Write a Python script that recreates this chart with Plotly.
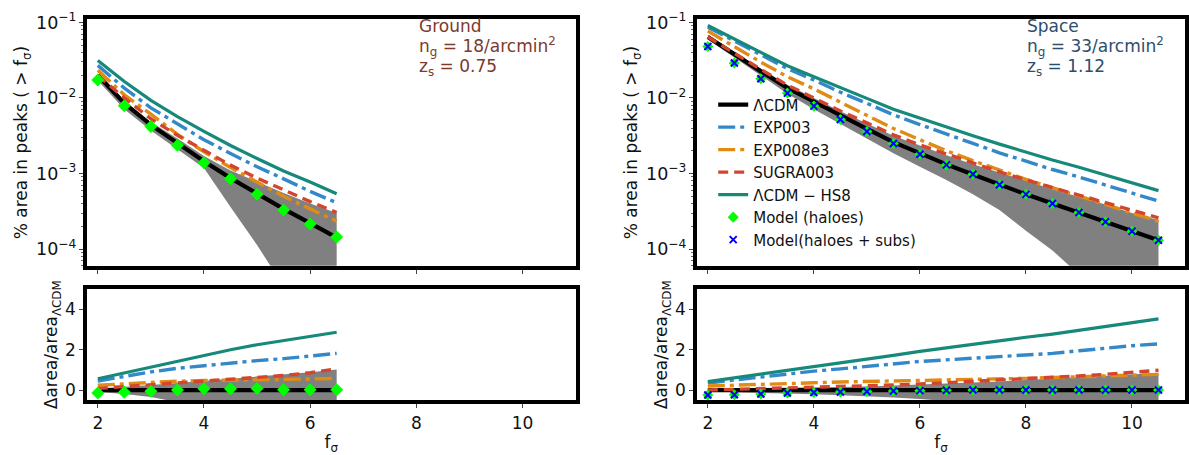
import math
import plotly.graph_objects as go

# ---------------- data ----------------
f_ground = [2.0, 2.5, 3.0, 3.5, 4.0, 4.5, 5.0, 5.5, 6.0, 6.5]
f_space = [2.0, 2.5, 3.0, 3.5, 4.0, 4.5, 5.0, 5.5, 6.0, 6.5, 7.0, 7.5, 8.0, 8.5, 9.0, 9.5, 10.0, 10.5]

# Ground, fraction of area in peaks
g_lcdm = [0.020, 0.0085, 0.0044, 0.0025, 0.00145, 0.00087, 0.00054, 0.00034, 0.00022, 0.000142]
g_exp003 = [0.027, 0.0135, 0.0074, 0.0045, 0.0028, 0.00184, 0.00123, 0.00085, 0.00058, 0.00041]
g_exp008e3 = [0.0233, 0.011, 0.0061, 0.0033, 0.00194, 0.0012, 0.00077, 0.0005, 0.00034, 0.000234]
g_sugra003 = [0.0199, 0.0100, 0.0053, 0.0032, 0.00203, 0.00129, 0.00087, 0.0006, 0.000425, 0.000305]
g_hs8 = [0.0314, 0.0165, 0.0093, 0.00567, 0.00362, 0.00235, 0.00158, 0.00108, 0.00077, 0.00054]
g_model = [0.0173, 0.0079, 0.0042, 0.00236, 0.00139, 0.00085, 0.00053, 0.00033, 0.000215, 0.000144]
g_band_lo = [0.017, 0.0071, 0.0037, 0.0021, 0.00118, 0.00036, 0.000113, 0.000032, 0.000001, 0.0000001]
g_band_hi = [0.021, 0.0092, 0.0048, 0.0029, 0.0017, 0.0011, 0.00078, 0.00055, 0.0004, 0.0003]

# Ground, relative difference
g_d_lcdm = [0, 0, 0, 0, 0, 0, 0, 0, 0, 0]
g_d_exp003 = [0.45, 0.68, 0.9, 1.08, 1.22, 1.35, 1.46, 1.56, 1.67, 1.82]
g_d_exp008e3 = [0.24, 0.32, 0.38, 0.44, 0.47, 0.48, 0.5, 0.52, 0.55, 0.58]
g_d_sugra003 = [0.08, 0.17, 0.26, 0.35, 0.45, 0.53, 0.61, 0.72, 0.86, 1.06]
g_d_hs8 = [0.56, 0.85, 1.13, 1.45, 1.75, 2.0, 2.25, 2.45, 2.65, 2.87]
g_d_model = [-0.15, -0.11, -0.06, 0.0, 0.06, 0.07, 0.08, 0.02, 0.02, 0.01]
g_d_band_lo = [-0.1, -0.2, -0.35, -0.6, -0.8, -0.9, -1.0, -1.0, -1.0, -1.0]
g_d_band_hi = [0.08, 0.15, 0.25, 0.35, 0.45, 0.55, 0.65, 0.75, 0.88, 1.02]

# Space, fraction of area in peaks
s_lcdm = [0.064, 0.0377, 0.0225, 0.0136, 0.0089, 0.0058, 0.0039, 0.0026, 0.00184, 0.00132,
          0.00097, 0.00071, 0.00053, 0.0004, 0.000305, 0.00023, 0.000172, 0.000131]
s_exp003 = [0.0864, 0.0566, 0.0365, 0.0245, 0.0173, 0.0119, 0.0085, 0.00598, 0.00445, 0.0033,
            0.0025, 0.00188, 0.00144, 0.00113, 0.0009, 0.000708, 0.00055, 0.000431]
s_exp008e3 = [0.0768, 0.0475, 0.0298, 0.0191, 0.0132, 0.0088, 0.0059, 0.00395, 0.0028, 0.002,
              0.00148, 0.0011, 0.000837, 0.000648, 0.000506, 0.000391, 0.000299, 0.000233]
s_sugra003 = [0.064, 0.0388, 0.0239, 0.0148, 0.00997, 0.00673, 0.00468, 0.00325, 0.00239, 0.0018,
              0.00138, 0.00105, 0.000822, 0.000648, 0.000519, 0.000409, 0.000323, 0.000259]
s_hs8 = [0.0909, 0.0603, 0.04, 0.0267, 0.0191, 0.01357, 0.00987, 0.00707, 0.00537, 0.00409,
         0.00317, 0.00245, 0.00192, 0.00151, 0.00121, 0.000961, 0.00075, 0.000593]
s_model = [0.048, 0.029, 0.018, 0.0116, 0.0078, 0.0052, 0.0036, 0.0025, 0.0018, 0.0013,
           0.00098, 0.00071, 0.00053, 0.0004, 0.000305, 0.00023, 0.000172, 0.000131]
s_model_subs = [0.048, 0.029, 0.018, 0.0116, 0.0078, 0.0052, 0.0036, 0.0025, 0.0018, 0.0013,
                0.00098, 0.00071, 0.00053, 0.0004, 0.000305, 0.00023, 0.000172, 0.000131]
s_band_lo = [0.0595, 0.034, 0.0196, 0.0114, 0.0071, 0.0045, 0.0029, 0.00185, 0.00123, 0.00082,
             0.00053, 0.00033, 0.000175, 0.000096, 0.000046, 0.000012, 0.0000017, 0.0000001]
s_band_hi = [0.0685, 0.0407, 0.0245, 0.015, 0.00997, 0.00667, 0.0046, 0.00317, 0.00234, 0.00174,
             0.00133, 0.00102, 0.0008, 0.00062, 0.00049, 0.00039, 0.0003, 0.000242]

# Space, relative difference
s_d_lcdm = [0] * 18
s_d_exp003 = [0.35, 0.5, 0.62, 0.8, 0.94, 1.05, 1.18, 1.3, 1.42, 1.5, 1.58, 1.65, 1.72, 1.82, 1.95, 2.08, 2.2, 2.29]
s_d_exp008e3 = [0.2, 0.25, 0.3, 0.33, 0.36, 0.4, 0.42, 0.45, 0.48, 0.5, 0.52, 0.55, 0.58, 0.62, 0.66, 0.7, 0.74, 0.78]
s_d_sugra003 = [0.0, 0.03, 0.06, 0.09, 0.12, 0.16, 0.2, 0.25, 0.3, 0.36, 0.42, 0.48, 0.55, 0.62, 0.7, 0.78, 0.88, 0.98]
s_d_hs8 = [0.42, 0.6, 0.78, 0.96, 1.15, 1.34, 1.53, 1.72, 1.92, 2.1, 2.27, 2.45, 2.62, 2.78, 2.97, 3.18, 3.36, 3.53]
s_d_model = [-0.25, -0.23, -0.2, -0.15, -0.12, -0.1, -0.07, -0.05, -0.03, -0.01, 0, 0, 0, 0, 0, 0, 0, 0]
s_d_model_subs = [-0.25, -0.23, -0.2, -0.15, -0.12, -0.1, -0.07, -0.05, -0.03, -0.01, 0, 0, 0, 0, 0, 0, 0, 0]
s_d_band_lo = [-0.07, -0.1, -0.13, -0.17, -0.21, -0.26, -0.31, -0.37, -0.45, -0.55, -0.65, -0.75, -0.85, -0.95, -1, -1, -1, -1]
s_d_band_hi = [0.07, 0.08, 0.09, 0.1, 0.12, 0.15, 0.18, 0.22, 0.27, 0.32, 0.37, 0.43, 0.5, 0.56, 0.62, 0.68, 0.76, 0.85]

x_ticks = [2, 4, 6, 8, 10]
d_ticks = [0, 2, 4]
names = ["ΛCDM", "EXP003", "EXP008e3", "SUGRA003", "ΛCDM − HS8", "Model (haloes)", "Model(haloes + subs)"]

# ---------------- styles ----------------
C_LCDM = "black"
C_EXP003 = "#3388c9"
C_EXP008 = "#e08b14"
C_SUGRA = "#d4452f"
C_HS8 = "#17897a"
C_MODEL = "#00ff00"
C_SUBS = "#0000ff"
FONT = "DejaVu Sans"

fig = go.Figure()


def panel(xs, lo, hi, lcdm, e3, e8, sg, hs, model, subs, xa, ya, msize, legend):
    fig.add_trace(go.Scatter(x=xs, y=lo, mode="lines", line=dict(width=0, color="#808080"),
                             xaxis=xa, yaxis=ya, showlegend=False, hoverinfo="skip"))
    fig.add_trace(go.Scatter(x=xs, y=hi, mode="lines", line=dict(width=0, color="#808080"),
                             fill="tonexty", fillcolor="#808080",
                             xaxis=xa, yaxis=ya, showlegend=False, hoverinfo="skip"))
    specs = [
        (lcdm, dict(color=C_LCDM, width=4.2), names[0]),
        (e3, dict(color=C_EXP003, width=3.4, dash="17px,5px,4px,5px"), names[1]),
        (e8, dict(color=C_EXP008, width=3.4, dash="17px,5px,4px,5px"), names[2]),
        (sg, dict(color=C_SUGRA, width=3.4, dash="10px,6px"), names[3]),
        (hs, dict(color=C_HS8, width=3.2), names[4]),
    ]
    for ys, ln, nm in specs:
        fig.add_trace(go.Scatter(x=xs, y=ys, mode="lines", line=ln, name=nm,
                                 xaxis=xa, yaxis=ya, showlegend=legend))
    fig.add_trace(go.Scatter(x=xs, y=model, mode="markers", name=names[5],
                             marker=dict(symbol="diamond", size=msize, color=C_MODEL,
                                         line=dict(width=0)),
                             xaxis=xa, yaxis=ya, showlegend=legend))
    if subs is not None:
        fig.add_trace(go.Scatter(x=xs, y=subs, mode="markers", name=names[6],
                                 marker=dict(symbol="x-thin", size=7, color=C_SUBS,
                                             line=dict(width=2, color=C_SUBS)),
                                 xaxis=xa, yaxis=ya, showlegend=legend))


panel(f_ground, g_band_lo, g_band_hi, g_lcdm, g_exp003, g_exp008e3, g_sugra003, g_hs8,
      g_model, None, "x", "y", 10, False)
panel(f_ground, g_d_band_lo, g_d_band_hi, g_d_lcdm, g_d_exp003, g_d_exp008e3, g_d_sugra003,
      g_d_hs8, g_d_model, None, "x2", "y2", 10, False)
panel(f_space, s_band_lo, s_band_hi, s_lcdm, s_exp003, s_exp008e3, s_sugra003, s_hs8,
      s_model, s_model_subs, "x3", "y3", 8.5, True)
panel(f_space, s_d_band_lo, s_d_band_hi, s_d_lcdm, s_d_exp003, s_d_exp008e3, s_d_sugra003,
      s_d_hs8, s_d_model, s_d_model_subs, "x4", "y4", 8.5, False)

W, H = 1189, 455
dom_left = [87.4 / W, 577.0 / W]
dom_right = [699.0 / W, 1188.0 / W]
dom_top = [1 - 262.0 / H, 1 - 10.5 / H]
dom_bot = [1 - 399.0 / H, 1 - 286.0 / H]

frame = dict(showline=True, linewidth=4, linecolor="black", mirror=True,
             showgrid=False, zeroline=False, ticks="outside", ticklen=4,
             tickwidth=1, tickcolor="#444")
tickfont = dict(family=FONT, size=17, color="#111")
titlefont = dict(family=FONT, size=17, color="#111")

ylog_range = [math.log10(6e-5), math.log10(0.11)]


def top_y(dom, anchor):
    return dict(frame, domain=dom_top, anchor=anchor, type="log", range=ylog_range,
                dtick=1, exponentformat="power", tickfont=dict(family=FONT, size=14, color="#111"),
                minor=dict(ticks="outside", ticklen=2, tickcolor="#666", dtick="D1"),
                title=dict(text="% area in peaks ( > f<sub>σ</sub>)", font=titlefont, standoff=5))


def bot_y(anchor):
    return dict(frame, domain=dom_bot, anchor=anchor, range=[-0.5, 5.0], tickvals=d_ticks,
                tickfont=tickfont,
                title=dict(text="Δarea/area<sub>ΛCDM</sub>", font=titlefont, standoff=4))


def top_x(dom, anchor):
    return dict(frame, domain=dom, anchor=anchor, range=[1.8, 11], tickvals=x_ticks,
                showticklabels=False)


def bot_x(dom, anchor):
    return dict(frame, domain=dom, anchor=anchor, range=[1.8, 11], tickvals=x_ticks,
                tickfont=tickfont,
                title=dict(text="f<sub>σ</sub>", font=titlefont, standoff=10))


ann_style = dict(xref="paper", yref="paper", xanchor="left", yanchor="middle",
                 showarrow=False, font=dict(family=FONT, size=17))
ground_lines = ["Ground", "n<sub>g</sub> = 18/arcmin<sup>2</sup>", "z<sub>s</sub> = 0.75"]
space_lines = ["Space", "n<sub>g</sub> = 33/arcmin<sup>2</sup>", "z<sub>s</sub> = 1.12"]
line_px = [17, 38, 60]
annotations = []
for txt, py in zip(ground_lines, line_px):
    a = dict(ann_style, x=418.0 / W, y=1 - py / H, text=txt)
    a["font"] = dict(family=FONT, size=17, color="#7d3a2d")
    annotations.append(a)
for txt, py in zip(space_lines, line_px):
    a = dict(ann_style, x=1028.0 / W, y=1 - py / H, text=txt)
    a["font"] = dict(family=FONT, size=17, color="#2c4e6c")
    annotations.append(a)

fig.update_layout(
    width=W, height=H,
    margin=dict(l=0, r=0, t=0, b=0),
    paper_bgcolor="white", plot_bgcolor="white",
    font=dict(family=FONT, color="#111"),
    xaxis=top_x(dom_left, "y"),
    yaxis=top_y(dom_left, "x"),
    xaxis2=bot_x(dom_left, "y2"),
    yaxis2=bot_y("x2"),
    xaxis3=top_x(dom_right, "y3"),
    yaxis3=top_y(dom_right, "x3"),
    xaxis4=bot_x(dom_right, "y4"),
    yaxis4=bot_y("x4"),
    showlegend=True,
    legend=dict(x=715.0 / W, y=1 - 81.0 / H, xanchor="left", yanchor="top",
                traceorder="normal",
                bgcolor="rgba(0,0,0,0)", borderwidth=0,
                font=dict(family=FONT, size=15, color="#111")),
    annotations=annotations,
)

fig.write_html("out.html")
